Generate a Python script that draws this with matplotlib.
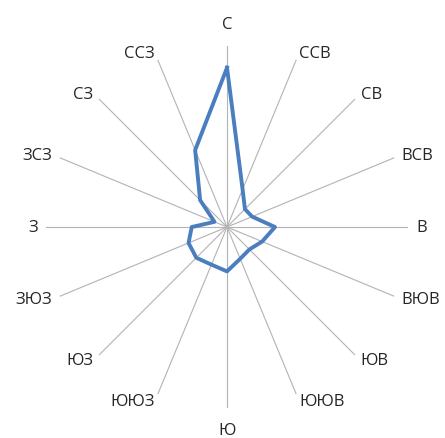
import numpy as np
import matplotlib
matplotlib.use("Agg")
import matplotlib.pyplot as plt

plt.rcParams['font.family'] = ['Open Sans', 'DejaVu Sans']

# wind directions, clockwise from north
directions = ["С", "ССВ", "СВ", "ВСВ", "В", "ВЮВ", "ЮВ", "ЮЮВ",
              "Ю", "ЮЮЗ", "ЮЗ", "ЗЮЗ", "З", "ЗСЗ", "СЗ", "ССЗ"]
# repeatability, %
values = [17.6, 4.5, 2.8, 3.0, 5.3, 4.2, 3.5, 3.8,
          4.9, 4.5, 4.8, 4.6, 3.9, 1.5, 4.2, 9.2]
r_max = 20

fig = plt.figure(figsize=(4.45, 4.39), dpi=100)
ax = fig.add_axes([0.1034, 0.0683, 0.8135, 0.8246], projection='polar')
ax.set_theta_zero_location('N')
ax.set_theta_direction(-1)

angles = np.deg2rad(np.arange(len(directions)) * 360 / len(directions))
ax.plot(np.append(angles, angles[0]), values + values[:1],
        color='#4a7ebf', lw=2.8, solid_joinstyle='round')

ax.set_ylim(0, r_max)
ax.set_yticks([])
ax.set_xticks(angles)
ax.set_xticklabels([])
ax.xaxis.grid(True, color='#b3b3b3', lw=0.8)
ax.spines['polar'].set_visible(False)
ax.set_facecolor('none')

# direction labels just outside the spokes
for a, name in zip(angles, directions):
    s, c = np.sin(a), np.cos(a)
    if abs(s) < 0.1:
        ha = 'center'
        va = 'bottom' if c > 0 else 'top'
        off = (0, 14 * np.sign(c))
    else:
        ha = 'left' if s > 0 else 'right'
        va = 'center'
        off = (8 * s, 7 * c)
    ax.annotate(name, xy=(a, r_max), xytext=off, textcoords='offset pixels',
                ha=ha, va=va, fontsize=12, color='#262626',
                annotation_clip=False)

fig.savefig('out.png', dpi=100)
